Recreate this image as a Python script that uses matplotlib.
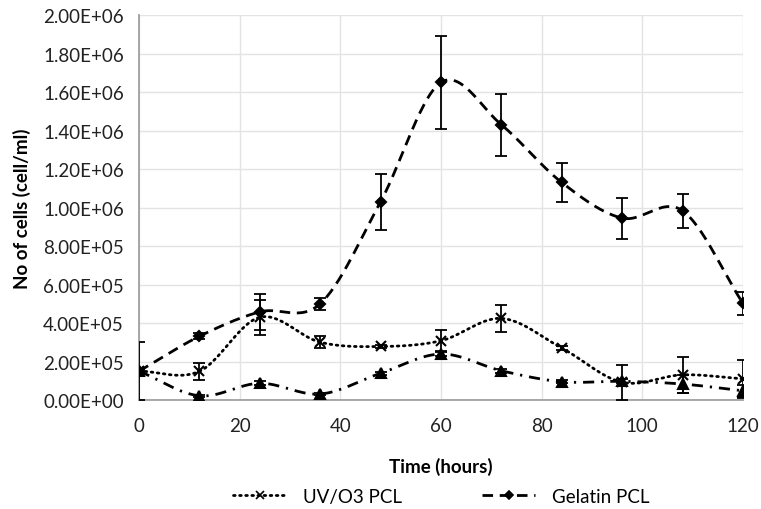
import numpy as np
import matplotlib
matplotlib.use("Agg")
import matplotlib.pyplot as plt
from matplotlib.ticker import FuncFormatter, MultipleLocator

plt.rcParams['font.family'] = ['Lato', 'DejaVu Sans']

time_h = [0, 12, 24, 36, 48, 60, 72, 84, 96, 108, 120]
uv_o3 = [1.50e5, 1.49e5, 4.30e5, 3.00e5, 2.78e5, 3.08e5, 4.24e5, 2.70e5, 0.92e5, 1.31e5, 1.10e5]
uv_o3_err = [0.10e5, 0.45e5, 0.90e5, 0.30e5, 0.10e5, 0.55e5, 0.70e5, 0.12e5, 0.90e5, 0.95e5, 1.00e5]
gelatin = [1.50e5, 3.31e5, 4.58e5, 5.00e5, 10.30e5, 16.50e5, 14.30e5, 11.30e5, 9.45e5, 9.83e5, 5.02e5]
gelatin_err = [0.10e5, 0.15e5, 0.95e5, 0.30e5, 1.45e5, 2.40e5, 1.60e5, 1.00e5, 1.07e5, 0.87e5, 0.58e5]
third = [1.50e5, 0.22e5, 0.87e5, 0.31e5, 1.39e5, 2.39e5, 1.52e5, 0.95e5, 0.97e5, 0.83e5, 0.48e5]
third_err = [1.50e5, 0.05e5, 0.10e5, 0.05e5, 0.08e5, 0.10e5, 0.10e5, 0.08e5, 0.10e5, 0.45e5, 0.30e5]


def smooth(x, y, n=30):
    # Catmull-Rom style smoothing (like spreadsheet "smoothed line")
    x = np.asarray(x, float); y = np.asarray(y, float)
    px = np.concatenate([[2 * x[0] - x[1]], x, [2 * x[-1] - x[-2]]])
    py = np.concatenate([[2 * y[0] - y[1]], y, [2 * y[-1] - y[-2]]])
    xs, ys = [], []
    t = np.linspace(0, 1, n)
    for i in range(1, len(px) - 2):
        p0, p1, p2, p3 = (np.array([px[j], py[j]]) for j in (i - 1, i, i + 1, i + 2))
        c1 = p1 + (p2 - p0) / 6
        c2 = p2 - (p3 - p1) / 6
        b = ((1 - t) ** 3)[:, None] * p1 + (3 * (1 - t) ** 2 * t)[:, None] * c1 \
            + (3 * (1 - t) * t ** 2)[:, None] * c2 + (t ** 3)[:, None] * p2
        xs.extend(b[:, 0]); ys.extend(b[:, 1])
    return np.array(xs), np.array(ys)


fig = plt.figure(figsize=(7.61, 5.10), dpi=100)
ax = fig.add_axes([0.1827, 0.2137, 0.7936, 0.7549])

series = [
    (uv_o3, uv_o3_err, (0, (0.6, 1.6)), 'x', 7, 'UV/O3 PCL'),
    (gelatin, gelatin_err, (0, (3.8, 2.4)), 'D', 5, 'Gelatin PCL'),
    (third, third_err, (0, (4, 2.5, 0.8, 2.5)), '^', 6.5, None),
]

handles = []
for vals, err, ls, mk, ms, lab in series:
    sx, sy = smooth(time_h, vals)
    ax.plot(sx, sy, color='black', lw=2.0, ls=ls, dash_capstyle='round' if mk == 'x' else 'butt', zorder=3)
    ax.errorbar(time_h, vals, yerr=err, fmt='none', ecolor='black', elinewidth=1.3,
                capsize=4, capthick=1.3, zorder=4)
    ax.plot(time_h, vals, ls='none', marker=mk, ms=ms, color='black', mew=1.5, zorder=5)
    if lab:
        h, = ax.plot([], [], color='black', lw=2.0, ls=ls, marker=mk, ms=ms * 0.8, mew=1.2,
                     dash_capstyle='round' if mk == 'x' else 'butt', label=lab)
        handles.append(h)

ax.set_xlim(0, 120)
ax.set_ylim(0, 2.0e6)
ax.xaxis.set_major_locator(MultipleLocator(20))
ax.yaxis.set_major_locator(MultipleLocator(2e5))
ax.yaxis.set_major_formatter(FuncFormatter(lambda v, p: '{:.2E}'.format(v)))
ax.grid(True, color='#e3e3e3', lw=1.0, zorder=0)
ax.set_axisbelow(True)
for s in ['top', 'right']:
    ax.spines[s].set_visible(False)
for s in ['left', 'bottom']:
    ax.spines[s].set_color('#a0a0a0')
    ax.spines[s].set_linewidth(1.3)
ax.tick_params(length=0, labelsize=13.5, pad=11)
ax.tick_params(axis='x', pad=12)
for t in ax.get_xticklabels() + ax.get_yticklabels():
    t.set_color('#222222')

ax.set_xlabel('Time (hours)', fontsize=13.5, fontweight='bold', labelpad=17)
ax.set_ylabel('No of cells (cell/ml)', fontsize=13.5, fontweight='bold', labelpad=9)

fig.legend(handles=handles, loc='lower center', bbox_to_anchor=(0.58, -0.025), ncol=2,
           frameon=False, fontsize=13.5, handlelength=2.8, columnspacing=4.3, handletextpad=0.9)

fig.savefig('out.png', dpi=100)
